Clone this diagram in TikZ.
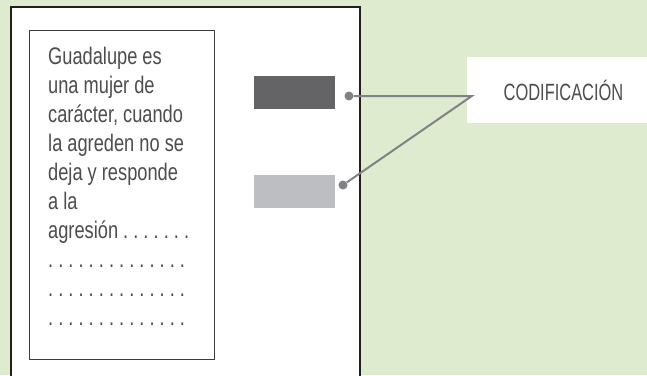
\documentclass[tikz,border=0pt]{standalone}
\usepackage{fontspec}
\setmainfont[FakeStretch=0.76]{Liberation Sans}
\newfontfamily\rotulo[FakeStretch=0.7]{Liberation Sans}
\usetikzlibrary{positioning,calc}
\definecolor{fondo}{RGB}{223,235,206}
\definecolor{borde}{RGB}{35,31,32}
\definecolor{linea}{RGB}{60,60,62}
\definecolor{tinta}{RGB}{77,77,79}
\definecolor{oscuro}{RGB}{100,100,102}
\definecolor{claro}{RGB}{189,190,194}
\definecolor{conector}{RGB}{128,130,133}
\frenchspacing

\begin{document}
\begin{tikzpicture}[x=1pt, y=-1pt,
    pagina/.style={draw=borde, line width=2.5pt, fill=white},
    caja/.style={rectangle, draw=linea, line width=1.2pt, anchor=north west, minimum width=185pt, minimum height=329pt},
    relato/.style={anchor=north west, inner sep=0pt, align=left, text=tinta, font=\fontsize{24}{29}\selectfont},
    muestra/.style={rectangle, minimum width=81pt, minimum height=33pt, inner sep=0pt},
    marca/.style={circle, fill=conector, minimum size=9pt, inner sep=0pt},
    etiqueta/.style={rectangle, fill=white, minimum width=193pt, minimum height=66pt, text=tinta, font=\rotulo\fontsize{23.5}{26}\selectfont},
    enlace/.style={draw=conector, line width=2pt}
]
    \useasboundingbox (0,0) rectangle (647,375);
    \fill [fondo] (0,0) rectangle (647,375);
    \clip (0,0) rectangle (647,375);
    \draw [pagina] (11,7) rectangle (360,395);

    \node [caja] (caja) at (29,30) {};
    \node [relato] (relato) at (48,47) {Guadalupe es\\una mujer de\\carácter, cuando\\la agreden no se\\deja y responde\\a la\\agresión . . . . . . .\\. . . . . . . . . . . . . .\\. . . . . . . . . . . . . .\\. . . . . . . . . . . . . .};

    \node [muestra, fill=oscuro] (muestra1) at (294.5,92.5) {};
    \node [muestra, fill=claro] (muestra2) at (294.5,191.5) {};
    \node [marca] (marca1) at (349,96) {};
    \node [marca] (marca2) at (343,185) {};

    \node [etiqueta] (etiqueta) at (563.5,90) {CODIFICACIÓN};
    \coordinate (union) at ($(etiqueta.west)+(5,6)$);

    \draw [enlace] (marca1) -- (union) -- (marca2);
\end{tikzpicture}
\end{document}
